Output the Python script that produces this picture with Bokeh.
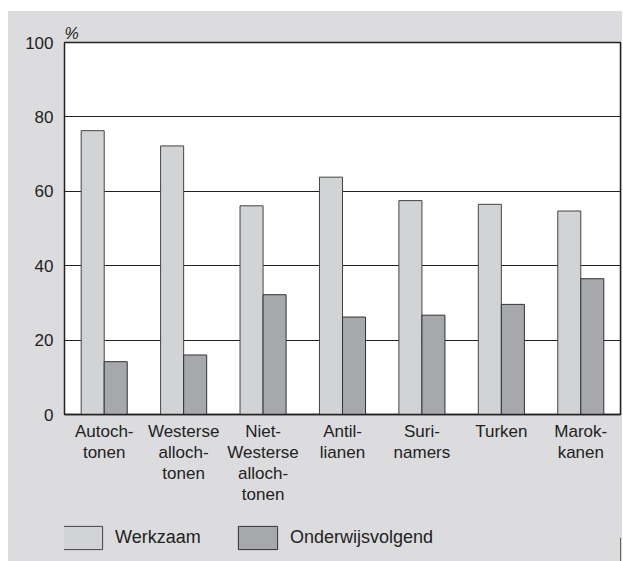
from bokeh.plotting import figure
from bokeh.layouts import column
from bokeh.models import FactorRange, Legend, LegendItem, Range1d, FixedTicker
from bokeh.transform import dodge
from bokeh.embed import file_html
from bokeh.resources import INLINE

categories = ["Autoch-\ntonen", "Westerse\nalloch-\ntonen", "Niet-\nWesterse\nalloch-\ntonen",
              "Antil-\nlianen", "Suri-\nnamers", "Turken", "Marok-\nkanen"]
werkzaam = [76.3, 72.2, 56.1, 63.8, 57.5, 56.5, 54.7]
onderwijsvolgend = [14.2, 16.0, 32.2, 26.2, 26.7, 29.6, 36.5]
y_ticks = [0, 20, 40, 60, 80, 100]
series_names = ["Werkzaam", "Onderwijsvolgend"]

BG = "#dcdcde"
LIGHT = "#d2d3d5"
DARK = "#a7a8ac"
TEXT = "#222222"
FONT = "Liberation Sans"

p = figure(x_range=FactorRange(factors=categories, range_padding=0),
           y_range=Range1d(0, 100),
           frame_width=556, frame_height=372,
           min_border_left=56, min_border_right=2, min_border_top=31, min_border_bottom=100,
           output_backend="svg", toolbar_location=None,
           title="%")

p.background_fill_color = "white"
p.border_fill_color = BG
p.outline_line_color = "#222222"
p.outline_line_width = 1.5

p.title.text_font = FONT
p.title.text_font_style = "italic"
p.title.text_font_size = "16px"
p.title.text_color = TEXT
p.title.align = "left"
p.title.standoff = 2

data = dict(cat=categories, w=werkzaam, o=onderwijsvolgend)
bar_styles = [dict(fill_color=LIGHT, line_color="#444444", line_width=1),
              dict(fill_color=DARK, line_color="#333333", line_width=1)]
r1 = p.vbar(x=dodge("cat", -0.145, range=p.x_range), top="w", width=0.29, source=data,
            **bar_styles[0])
r2 = p.vbar(x=dodge("cat", 0.145, range=p.x_range), top="o", width=0.29, source=data,
            **bar_styles[1])

# grid
p.xgrid.grid_line_color = None
p.ygrid.ticker = FixedTicker(ticks=y_ticks)
p.ygrid.grid_line_color = "#222222"
p.ygrid.grid_line_width = 1
p.ygrid.level = "underlay"

# y axis
p.yaxis.ticker = FixedTicker(ticks=y_ticks)
p.yaxis.axis_line_color = None
p.yaxis.major_tick_line_color = None
p.yaxis.minor_tick_line_color = None
p.yaxis.major_label_standoff = 5
p.yaxis.major_label_text_font = FONT
p.yaxis.major_label_text_font_size = "17px"
p.yaxis.major_label_text_color = TEXT

# x axis
p.xaxis.axis_line_color = "#222222"
p.xaxis.axis_line_width = 1.5
p.xaxis.major_tick_line_color = None
p.xaxis.minor_tick_line_color = None
p.xaxis.major_label_standoff = 1
p.xaxis.major_label_text_font = FONT
p.xaxis.major_label_text_font_size = "17px"
p.xaxis.major_label_text_color = TEXT
p.xaxis.major_label_text_line_height = 1.12

# legend strip below the chart (swatches only, drawn outside the visible range)
p2 = figure(width=614, height=47, min_border=0, x_range=Range1d(0, 1), y_range=Range1d(0, 1),
            output_backend="svg", toolbar_location=None)
p2.axis.visible = False
p2.grid.grid_line_color = None
p2.outline_line_color = None
p2.background_fill_alpha = 0
p2.border_fill_alpha = 0
swatch = dict(x=[5.0], top=[0.5])
l1 = p2.vbar(x="x", top="top", width=0.1, source=swatch, **bar_styles[0])
l2 = p2.vbar(x="x", top="top", width=0.1, source=swatch, **bar_styles[1])

legend = Legend(items=[LegendItem(label=series_names[0], renderers=[l1]),
                       LegendItem(label=series_names[1], renderers=[l2])],
                orientation="horizontal", location=(-6, 9),
                glyph_width=49, glyph_height=29, label_standoff=8,
                label_width=105, spacing=13, padding=0, margin=0,
                border_line_color=None, background_fill_alpha=0,
                label_text_font=FONT, label_text_font_size="18px", label_text_color=TEXT)
p2.add_layout(legend, "center")

layout = column(p, p2, spacing=0)
layout.margin = (11, 0, 0, 8)
layout.styles = {"background-color": BG}

open("out.html", "w").write(file_html(layout, INLINE))
